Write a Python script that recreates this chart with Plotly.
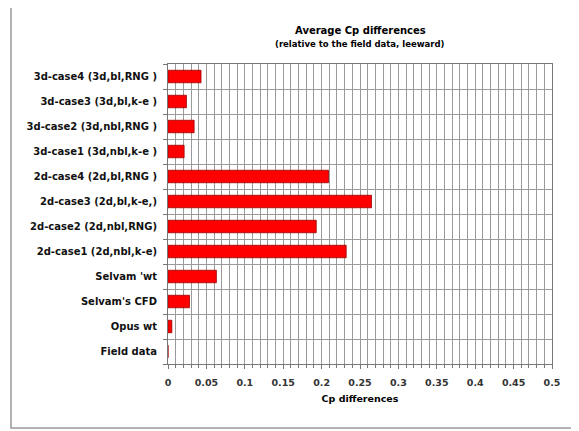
import plotly.graph_objects as go

categories = ["Field data", "Opus wt", "Selvam's CFD", "Selvam 'wt",
              "2d-case1 (2d,nbl,k-e)", "2d-case2 (2d,nbl,RNG)", "2d-case3 (2d,bl,k-e,)",
              "2d-case4 (2d,bl,RNG )", "3d-case1 (3d,nbl,k-e )", "3d-case2 (3d,nbl,RNG )",
              "3d-case3 (3d,bl,k-e )", "3d-case4 (3d,bl,RNG )"]
values = [0.0, 0.005, 0.028, 0.063, 0.232, 0.193, 0.265, 0.209, 0.021, 0.034, 0.024, 0.043]
x_ticks = [0, 0.05, 0.1, 0.15, 0.2, 0.25, 0.3, 0.35, 0.4, 0.45, 0.5]
x_ticktext = ["0", "0.05", "0.1", "0.15", "0.2", "0.25", "0.3", "0.35", "0.4", "0.45", "0.5"]

FONT = "DejaVu Sans, Verdana, sans-serif"

fig = go.Figure(go.Bar(
    y=categories, x=values, orientation="h",
    marker=dict(color="#FF0000", line=dict(color="#990000", width=0.8)),
    width=0.5,
))

# page body has an 8px default margin; work in reference-pixel coordinates and shift
OFF = 8
W, H = 579 - OFF, 431 - OFF
# plot area in reference pixels: x 168..552, y 64..364
L = 168 - OFF
R = 579 - 552
T = 64 - OFF
B = 431 - 364
pw, ph = W - L - R, H - T - B

def px2paper_x(x):
    return (x - OFF - L) / pw

def px2paper_y(y):
    return (T + ph - (y - OFF)) / ph

fig.update_layout(
    width=W, height=H,
    margin=dict(l=L, r=R, t=T, b=B, pad=0),
    paper_bgcolor="white", plot_bgcolor="white",
    showlegend=False,
    font=dict(family=FONT, size=9, color="black"),
    xaxis=dict(
        range=[0, 0.5], tickvals=x_ticks, ticktext=["<b>%s</b>" % t for t in x_ticktext],
        showgrid=True, gridcolor="#9a9a9a", gridwidth=1,
        minor=dict(dtick=0.01, showgrid=True, gridcolor="#9a9a9a", gridwidth=1,
                   ticks="outside", ticklen=3, tickcolor="#777"),
        ticks="outside", ticklen=4, tickcolor="#777",
        showline=True, linecolor="#777", mirror=True, linewidth=1,
        zeroline=False,
        tickfont=dict(family=FONT, size=9.5, color="#333"),
        ticklabelstandoff=6,
        title=dict(text="<b>Cp differences</b>", font=dict(family=FONT, size=9.5), standoff=7),
    ),
    yaxis=dict(
        type="category", categoryorder="array", categoryarray=categories,
        tickson="boundaries", showgrid=True, gridcolor="#9a9a9a", gridwidth=1,
        ticks="outside", ticklen=4, tickcolor="#777",
        showline=True, linecolor="#777", mirror=True, linewidth=1,
        tickfont=dict(family=FONT, size=10, color="#111"),
        ticklabelstandoff=8,
    ),
    annotations=[
        dict(text="<b>Average Cp differences</b>", xref="paper", yref="paper",
             x=0.5, y=px2paper_y(31), yanchor="middle", showarrow=False,
             font=dict(family=FONT, size=10)),
        dict(text="<b>(relative to the field data, leeward)</b>", xref="paper", yref="paper",
             x=0.5, y=px2paper_y(44), yanchor="middle", showarrow=False,
             font=dict(family=FONT, size=8.5)),
    ],
    shapes=[
        dict(type="rect", xref="paper", yref="paper",
             x0=px2paper_x(11), x1=px2paper_x(577), y0=px2paper_y(428), y1=px2paper_y(4),
             line=dict(color="#999", width=1.5), layer="below"),
    ],
)

fig.update_yaxes(tickprefix="<b>", ticksuffix="</b>")

fig.write_html("out.html")
